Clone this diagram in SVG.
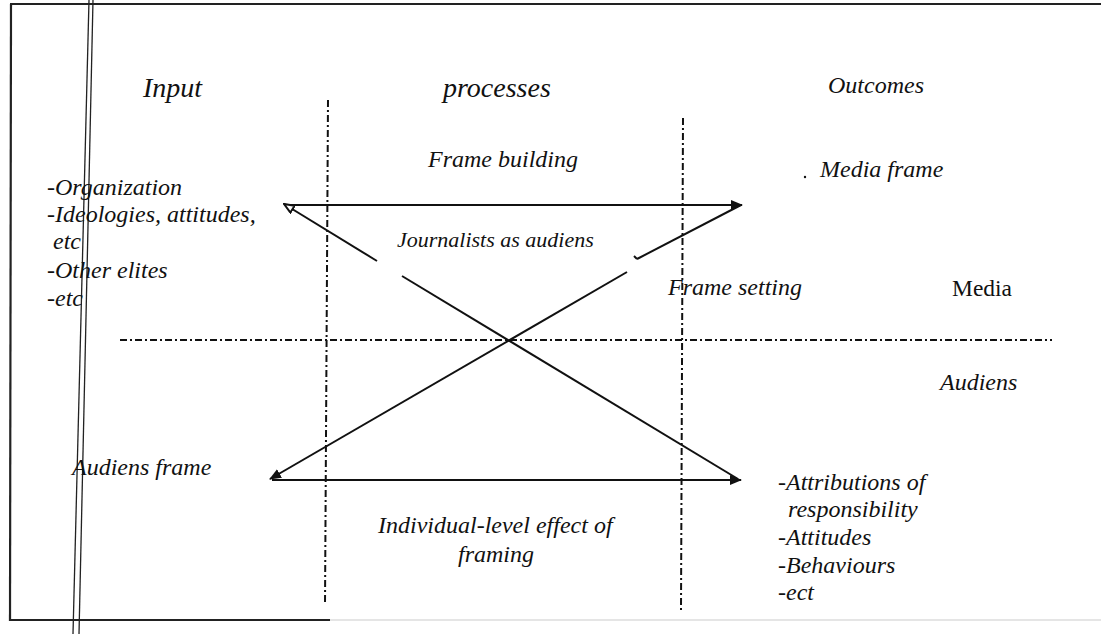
<svg xmlns="http://www.w3.org/2000/svg" width="1101" height="634" viewBox="0 0 1101 634">
<defs>
<style>
.t{font-family:"Liberation Serif","Times New Roman",serif;font-style:italic;fill:#111;}
.s24{font-size:24px;}
.s28{font-size:28px;}
.s22{font-size:22px;}
.up{font-family:"Liberation Serif","Times New Roman",serif;font-size:23.5px;fill:#111;}
.dd{stroke:#111;stroke-width:2;fill:none;stroke-dasharray:7 3 2 3;}
.ln{stroke:#111;stroke-width:2;fill:none;}
.fr{stroke:#222;stroke-width:2.2;fill:none;}
</style>
<marker id="ah" viewBox="0 0 12 10" refX="11" refY="5" markerWidth="12" markerHeight="10" markerUnits="userSpaceOnUse" orient="auto">
<path d="M0,0 L12,5 L0,10 Z" fill="#111"/>
</marker>
<marker id="ao" viewBox="0 0 12 10" refX="11" refY="5" markerWidth="12" markerHeight="10" markerUnits="userSpaceOnUse" orient="auto">
<path d="M1,1 L11,5 L1,9 Z" fill="#fff" stroke="#111" stroke-width="2"/>
</marker>
</defs>
<rect width="1101" height="634" fill="#fff"/>
<g id="frame">
<line class="fr" x1="10" y1="4" x2="1101" y2="4"/>
<line class="fr" x1="11" y1="4" x2="10" y2="621"/>
<line class="fr" x1="10" y1="620" x2="330" y2="620"/>
<line x1="330" y1="620" x2="1101" y2="620" stroke="#ddd" stroke-width="1.5"/>
<line x1="89" y1="0" x2="73" y2="634" stroke="#222" stroke-width="1.3"/>
<line x1="93" y1="0" x2="79" y2="634" stroke="#222" stroke-width="1.3"/>
</g>
<g id="dividers">
<line class="dd" x1="328" y1="100" x2="325" y2="605"/>
<line class="dd" x1="683" y1="118" x2="681" y2="610"/>
<line class="dd" x1="120" y1="340" x2="1052" y2="340"/>
</g>
<g id="headers">
<text class="t s28" x="143" y="97">Input</text>
<text class="t s28" x="443" y="97">processes</text>
<text class="t s24" x="828" y="93">Outcomes</text>
</g>
<g id="node-input">
<text class="t s24" x="47" y="195">-Organization</text>
<text class="t s24" x="47" y="222">-Ideologies,  attitudes,</text>
<text class="t s24" x="53" y="249">etc</text>
<text class="t s24" x="47" y="278">-Other elites</text>
<text class="t s24" x="47" y="306">-etc</text>
</g>
<g id="node-frame-building">
<text class="t s24" x="428" y="167">Frame building</text>
</g>
<g id="node-media-frame">
<circle cx="805" cy="177" r="1.2" fill="#111"/>
<text class="t s24" x="820" y="177">Media frame</text>
</g>
<g id="node-journalists">
<text class="t s22" x="397" y="247">Journalists as audiens</text>
</g>
<g id="node-frame-setting">
<text class="t s24" x="668" y="295">Frame setting</text>
</g>
<g id="node-media">
<text class="up" x="952" y="296">Media</text>
</g>
<g id="node-audiens">
<text class="t s24" x="940" y="390">Audiens</text>
</g>
<g id="node-audiens-frame">
<text class="t s24" x="72" y="475">Audiens frame</text>
</g>
<g id="node-individual">
<text class="t s24" x="378" y="533">Individual-level effect of</text>
<text class="t s24" x="458" y="562">framing</text>
</g>
<g id="node-outcomes-list">
<text class="t s24" x="778" y="490">-Attributions  of</text>
<text class="t s24" x="788" y="517">responsibility</text>
<text class="t s24" x="778" y="545">-Attitudes</text>
<text class="t s24" x="778" y="573">-Behaviours</text>
<text class="t s24" x="778" y="600">-ect</text>
</g>
<g id="connectors">
<line class="ln" x1="290" y1="205" x2="742" y2="205" marker-end="url(#ah)"/>
<line class="ln" x1="272" y1="480" x2="741" y2="480" marker-end="url(#ah)"/>
<line class="ln" x1="402" y1="276" x2="738" y2="479"/>
<line class="ln" x1="377" y1="261" x2="284" y2="204" marker-end="url(#ao)"/>
<line class="ln" x1="627" y1="272" x2="270" y2="479" marker-end="url(#ah)"/>
<line class="ln" x1="637" y1="259" x2="741" y2="205"/>
<line class="ln" x1="637" y1="259" x2="634" y2="256"/>
</g>
</svg>
